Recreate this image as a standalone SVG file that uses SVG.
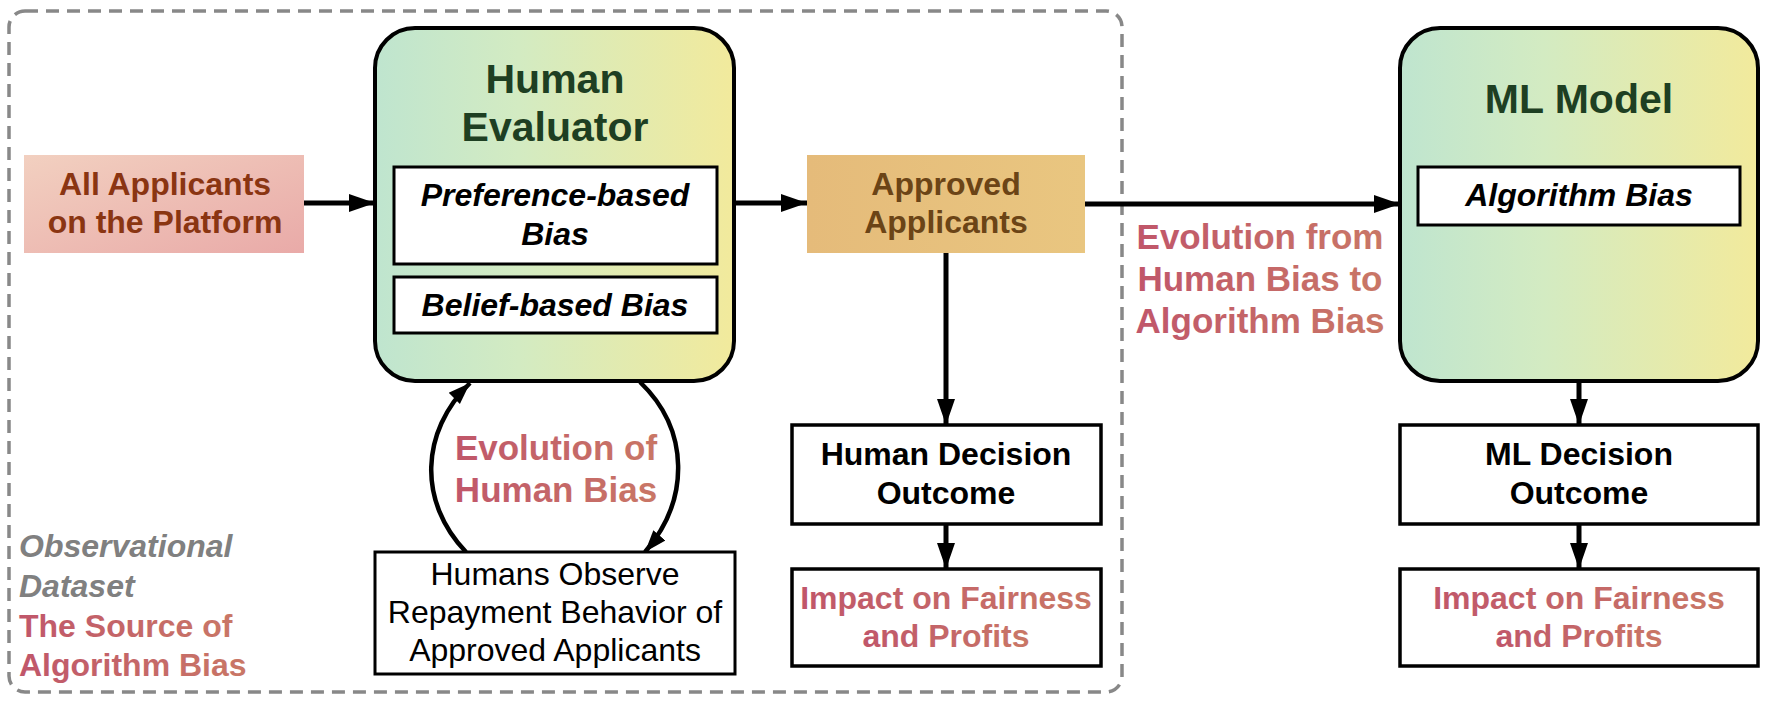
<svg xmlns="http://www.w3.org/2000/svg" width="1770" height="703" viewBox="0 0 1770 703">
<defs>
<linearGradient id="gGreen" x1="0" y1="0" x2="1" y2="0">
<stop offset="0" stop-color="#bfe5cf"/>
<stop offset="0.4" stop-color="#d3ebc2"/>
<stop offset="1" stop-color="#f2ea9c"/>
</linearGradient>
<linearGradient id="gPink" x1="0" y1="0" x2="1" y2="1">
<stop offset="0" stop-color="#f2d0c0"/>
<stop offset="1" stop-color="#e9aaa8"/>
</linearGradient>
<linearGradient id="gTan" x1="0" y1="0" x2="1" y2="0">
<stop offset="0" stop-color="#e5bb7a"/>
<stop offset="1" stop-color="#e9c680"/>
</linearGradient>
<linearGradient id="gRed" x1="0" y1="0" x2="1" y2="0">
<stop offset="0" stop-color="#c0566a"/>
<stop offset="1" stop-color="#c97766"/>
</linearGradient>
<marker id="arr" markerUnits="userSpaceOnUse" markerWidth="28" markerHeight="20" refX="26" refY="10" orient="auto">
<path d="M0,1 L26,10 L0,19 Z" fill="#000"/>
</marker>
<marker id="arrC" markerUnits="userSpaceOnUse" markerWidth="24" markerHeight="18" refX="22" refY="9" orient="auto">
<path d="M0,1 L22,9 L0,17 Z" fill="#000"/>
</marker>
</defs>
<style>
text{font-family:"Liberation Sans",Arial,Helvetica,sans-serif;}
.b{font-weight:bold;}
.bi{font-weight:bold;font-style:italic;}
.c{text-anchor:middle;}
.t32{font-size:32px;}
.t35{font-size:35px;}
.t41{font-size:41px;}
.red{fill:url(#gRed);}
.big{fill:url(#gGreen);stroke:#000;stroke-width:4;}
.box{fill:#fff;stroke:#000;stroke-width:3.5;}
.ibox{fill:#fff;stroke:#000;stroke-width:3;}
.conn{stroke:#000;stroke-width:5;fill:none;marker-end:url(#arr);}
.curve{stroke:#000;stroke-width:4.5;fill:none;marker-end:url(#arrC);}
</style>

<g id="observational-dataset">
<rect x="9" y="11" width="1113" height="681" rx="16" fill="none" stroke="#888" stroke-width="3.5" stroke-dasharray="13 8"/>
<text class="bi t32" x="19" y="557" fill="#808080">Observational</text>
<text class="bi t32" x="19" y="597" fill="#808080">Dataset</text>
<text class="b t32 red" x="19" y="637">The Source of</text>
<text class="b t32 red" x="19" y="676">Algorithm Bias</text>
</g>

<g id="connectors">
<line class="conn" x1="304" y1="203" x2="375" y2="203"/>
<line class="conn" x1="734" y1="203" x2="807" y2="203"/>
<line class="conn" x1="1085" y1="204" x2="1400" y2="204"/>
<line class="conn" x1="946" y1="253" x2="946" y2="425"/>
<line class="conn" x1="946" y1="524" x2="946" y2="569"/>
<line class="conn" x1="1579" y1="381" x2="1579" y2="425"/>
<line class="conn" x1="1579" y1="524" x2="1579" y2="569"/>
<path class="curve" d="M466,552 C418,502 420,432 470,383"/>
<path class="curve" d="M640,382 C690,430 690,500 645,552"/>
</g>

<g id="all-applicants">
<rect x="24" y="155" width="280" height="98" fill="url(#gPink)"/>
<text class="b c t32" x="165" y="195" fill="#8a3512">All Applicants</text>
<text class="b c t32" x="165" y="233" fill="#8a3512">on the Platform</text>
</g>

<g id="human-evaluator">
<rect class="big" x="375" y="28" width="359" height="353" rx="40"/>
<text class="b c t41" x="555" y="93" fill="#1e3f22">Human</text>
<text class="b c t41" x="555" y="141" fill="#1e3f22">Evaluator</text>
<g id="preference-based-bias">
<rect class="ibox" x="394" y="167" width="323" height="97"/>
<text class="bi c t32" x="555" y="206">Preference-based</text>
<text class="bi c t32" x="555" y="245">Bias</text>
</g>
<g id="belief-based-bias">
<rect class="ibox" x="394" y="277" width="323" height="56"/>
<text class="bi c t32" x="555" y="316">Belief-based Bias</text>
</g>
</g>

<g id="approved-applicants">
<rect x="807" y="155" width="278" height="98" fill="url(#gTan)"/>
<text class="b c t32" x="946" y="195" fill="#6b4416">Approved</text>
<text class="b c t32" x="946" y="233" fill="#6b4416">Applicants</text>
</g>

<g id="evolution-label">
<text class="b c t35 red" x="1260" y="249">Evolution from</text>
<text class="b c t35 red" x="1260" y="291">Human Bias to</text>
<text class="b c t35 red" x="1260" y="333">Algorithm Bias</text>
</g>

<g id="ml-model">
<rect class="big" x="1400" y="28" width="358" height="353" rx="40"/>
<text class="b c t41" x="1579" y="113" fill="#1e3f22">ML Model</text>
<g id="algorithm-bias">
<rect class="ibox" x="1418" y="167" width="322" height="58"/>
<text class="bi c t32" x="1579" y="206">Algorithm Bias</text>
</g>
</g>

<g id="human-decision-outcome">
<rect class="box" x="792" y="425" width="309" height="99"/>
<text class="b c t32" x="946" y="465">Human Decision</text>
<text class="b c t32" x="946" y="504">Outcome</text>
</g>

<g id="human-impact">
<rect class="box" x="792" y="569" width="309" height="97"/>
<text class="b c t32 red" x="946" y="609">Impact on Fairness</text>
<text class="b c t32 red" x="946" y="647">and Profits</text>
</g>

<g id="ml-decision-outcome">
<rect class="box" x="1400" y="425" width="358" height="99"/>
<text class="b c t32" x="1579" y="465">ML Decision</text>
<text class="b c t32" x="1579" y="504">Outcome</text>
</g>

<g id="ml-impact">
<rect class="box" x="1400" y="569" width="358" height="97"/>
<text class="b c t32 red" x="1579" y="609">Impact on Fairness</text>
<text class="b c t32 red" x="1579" y="647">and Profits</text>
</g>

<g id="evolution-of-human-bias">
<text class="b c t35 red" x="556" y="460">Evolution of</text>
<text class="b c t35 red" x="556" y="502">Human Bias</text>
</g>

<g id="humans-observe">
<rect class="ibox" x="375" y="552" width="360" height="122"/>
<text class="c t32" x="555" y="585">Humans Observe</text>
<text class="c t32" x="555" y="623">Repayment Behavior of</text>
<text class="c t32" x="555" y="661">Approved Applicants</text>
</g>
</svg>
